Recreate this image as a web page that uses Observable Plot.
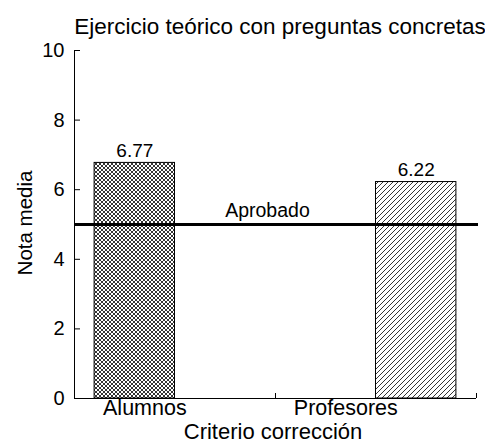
<!DOCTYPE html>
<html><head><meta charset="utf-8">
<script src="https://cdn.jsdelivr.net/npm/d3@7"></script>
<script src="https://cdn.jsdelivr.net/npm/@observablehq/plot@0.6"></script>
<style>body{margin:0;background:#fff} svg{font-family:"Liberation Sans",Arial,sans-serif;color:#000}</style>
</head><body><div id="chart"></div>
<script>
const title = "Ejercicio teórico con preguntas concretas";
const categories = ["Alumnos", "Profesores"];
const values = [6.77, 6.22];
const passMark = 5;
const passLabel = "Aprobado";
const yTicks = [0, 2, 4, 6, 8, 10];
const xLabel = "Criterio corrección";
const yLabel = "Nota media";

const patterns = ["url(#cross)", "url(#hatch)"];
const W = 0.4;
const data = categories.map((c, i) => ({
  c, v: values[i],
  center: 1 + (i - 0.5) * 1.4,
  labelX: i + 0.35,
  pat: patterns[i]
}));

const svg = Plot.plot({
  width: 485, height: 443,
  marginLeft: 74, marginRight: 9, marginTop: 50, marginBottom: 45,
  style: {fontFamily: '"Liberation Sans", Arial, sans-serif', color: "#000", background: "#fff"},
  x: {domain: [0, 2]},
  y: {domain: [0, 10]},
  color: {type: "identity"},
  marks: [
    Plot.rect(data, {x1: d => d.center - W / 2, x2: d => d.center + W / 2, y1: 0, y2: "v", fill: "pat", stroke: "black", strokeWidth: 1}),
    Plot.ruleY([passMark], {x1: 0, x2: 2.01, stroke: "black", strokeWidth: 3}),
    Plot.text([passLabel], {x: 0.96, y: passMark, dy: -14, fontSize: 19.5, fill: "black"}),
    Plot.text(data, {x: "center", y: "v", text: d => d.v.toFixed(2), dy: -12, fontSize: 19, fill: "black"}),
    Plot.ruleX([0], {stroke: "black"}),
    Plot.ruleY([0], {stroke: "black"}),
    Plot.axisY({ticks: yTicks, tickSize: -6, tickPadding: 16, fontSize: 20, label: null, stroke: "black", fill: "black"}),
    Plot.axisX({ticks: [1, 2], tickSize: -5, tickFormat: () => "", label: null, stroke: "black"}),
    Plot.text(data, {x: "labelX", y: 0, text: "c", dy: 10, fontSize: 21.5, fill: "black", lineAnchor: "middle"}),
    Plot.text([xLabel], {frameAnchor: "bottom", lineAnchor: "middle", textAnchor: "middle", dy: 33, dx: -2.5, fontSize: 22, fill: "black"}),
    Plot.text([yLabel], {frameAnchor: "left", lineAnchor: "middle", textAnchor: "middle", rotate: -90, dx: -49.5, dy: -1.5, fontSize: 20.5, fill: "black"}),
    Plot.text([title], {frameAnchor: "top", lineAnchor: "middle", textAnchor: "middle", dy: -24, dx: 4.5, fontSize: 22.5, fill: "black"})
  ]
});

const defs = d3.select(svg).insert("defs", ":first-child");
const cross = defs.append("pattern").attr("id", "cross").attr("patternUnits", "userSpaceOnUse").attr("width", 4).attr("height", 4);
cross.append("rect").attr("width", 4).attr("height", 4).attr("fill", "white");
cross.append("path").attr("d", "M0,0L4,4M4,0L0,4M-1,1L1,-1M3,5L5,3M-1,3L1,5M3,-1L5,1").attr("stroke", "black").attr("stroke-width", 0.8);
const hatch = defs.append("pattern").attr("id", "hatch").attr("patternUnits", "userSpaceOnUse").attr("width", 5).attr("height", 5);
hatch.append("rect").attr("width", 5).attr("height", 5).attr("fill", "white");
hatch.append("path").attr("d", "M0,5L5,0M-1,1L1,-1M4,6L6,4").attr("stroke", "black").attr("stroke-width", 0.8);

document.getElementById("chart").append(svg);
</script>
</body></html>
